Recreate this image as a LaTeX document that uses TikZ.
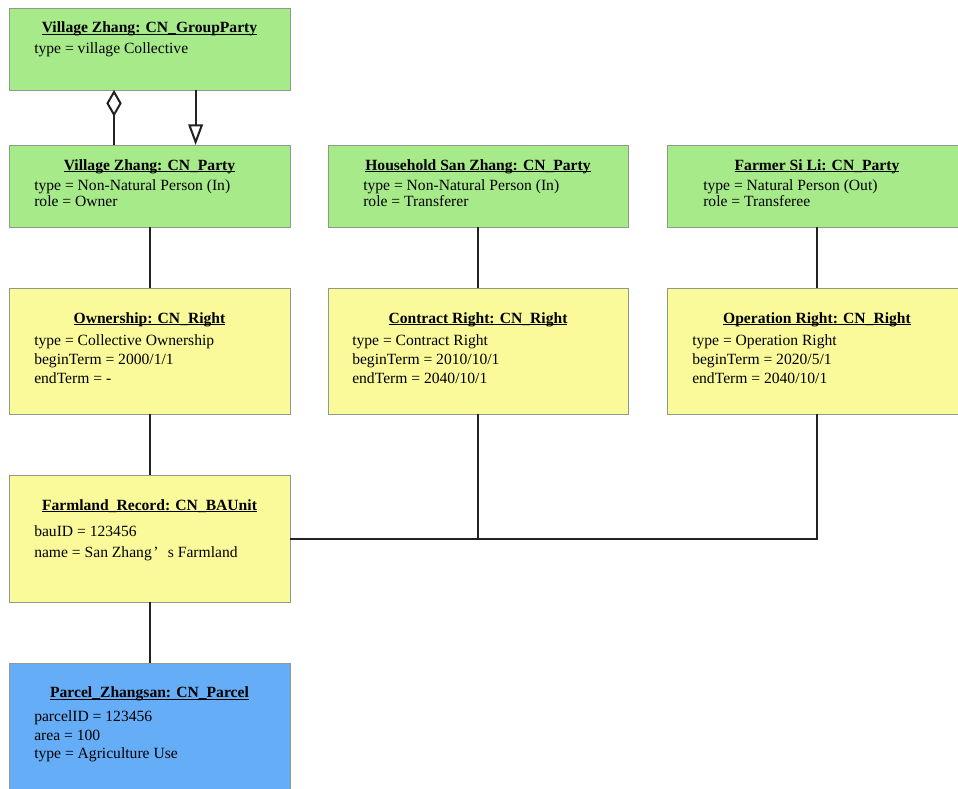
\documentclass[tikz,border=0pt]{standalone}
\usepackage{fontspec}
\setmainfont{Liberation Serif}
\usetikzlibrary{arrows.meta,shadows}
\definecolor{partygreen}{HTML}{A7EA8A}
\definecolor{rightyellow}{HTML}{FBFA9A}
\definecolor{parcelblue}{HTML}{66ADF7}
\definecolor{boxborder}{HTML}{8E9A8A}
\definecolor{linkcolor}{HTML}{222222}
% bold object name with an underline set at the underscore's depth
\newcommand\objtitle[1]{\setbox0\hbox{\bfseries #1}\rlap{\rule[-1.55pt]{\wd0}{0.65pt}}\box0}
\begin{document}
\begin{tikzpicture}[x=0.75pt,y=-0.75pt,
  objbox/.style={draw=boxborder, line width=0.75pt, inner sep=0pt, outer sep=0pt, anchor=north west,
    drop shadow={shadow xshift=1.1pt, shadow yshift=-1.1pt, fill=black, opacity=0.12}},
  party/.style={objbox, fill=partygreen, minimum height=61.5pt},
  rightbox/.style={objbox, fill=rightyellow, minimum height=94.5pt},
  narrow/.style={minimum width=210.75pt},
  wide/.style={minimum width=225pt},
  objname/.style={anchor=base, inner sep=0pt, font=\fontsize{11.7}{14}\selectfont},
  attr/.style={anchor=base west, inner sep=0pt, font=\fontsize{11.7}{14}\selectfont},
  link/.style={line width=1.5pt, draw=linkcolor}]
\useasboundingbox[fill=white] (0,0) rectangle (958,789);

% object boxes
\node[party, narrow] (gp) at (9,8) {};
\node[party, narrow] (vz) at (9,145) {};
\node[party, wide] (hh) at (328,145) {};
\node[party, wide] (fm) at (667,145) {};
\node[rightbox, narrow] (own) at (9,288) {};
\node[rightbox, wide] (con) at (328,288) {};
\node[rightbox, wide] (opr) at (667,288) {};
\node[rightbox, narrow, minimum height=95.25pt] (far) at (9,475) {};
\node[objbox, narrow, fill=parcelblue, minimum height=97.5pt] (par) at (9,663) {};

% object names
\node[objname] (gp-t) at (149.5,32.3) {\objtitle{Village Zhang: CN\_GroupParty}};
\node[objname] (vz-t) at (149.5,170) {\objtitle{Village Zhang: CN\_Party}};
\node[objname] (hh-t) at (478,170) {\objtitle{Household San Zhang: CN\_Party}};
\node[objname] (fm-t) at (817,170) {\objtitle{Farmer Si Li: CN\_Party}};
\node[objname] (own-t) at (149.5,323) {\objtitle{Ownership: CN\_Right}};
\node[objname] (con-t) at (478,323) {\objtitle{Contract Right: CN\_Right}};
\node[objname] (opr-t) at (817,323) {\objtitle{Operation Right: CN\_Right}};
\node[objname] (far-t) at (149.5,510) {\objtitle{Farmland\_Record: CN\_BAUnit}};
\node[objname] (par-t) at (149.5,697.5) {\objtitle{Parcel\_Zhangsan: CN\_Parcel}};

% attribute values
\node[attr] (gp-a1) at (34,53.3) {type = village Collective};

\node[attr] (vz-a1) at (34,190.7) {type = Non-Natural Person (In)};
\node[attr] (vz-a2) at (34,206) {role = Owner};
\node[attr] (hh-a1) at (363,190.7) {type = Non-Natural Person (In)};
\node[attr] (hh-a2) at (363,206) {role = Transferer};
\node[attr] (fm-a1) at (703,190.7) {type = Natural Person (Out)};
\node[attr] (fm-a2) at (703,206) {role = Transferee};

\node[attr] (own-a1) at (34,345) {type = Collective Ownership};
\node[attr] (own-a2) at (34,364) {beginTerm = 2000/1/1};
\node[attr] (own-a3) at (34,383) {endTerm = -};
\node[attr] (con-a1) at (352,345) {type = Contract Right};
\node[attr] (con-a2) at (352,364) {beginTerm = 2010/10/1};
\node[attr] (con-a3) at (352,383) {endTerm = 2040/10/1};
\node[attr] (opr-a1) at (692,345) {type = Operation Right};
\node[attr] (opr-a2) at (692,364) {beginTerm = 2020/5/1};
\node[attr] (opr-a3) at (692,383) {endTerm = 2040/10/1};

\node[attr] (far-a1) at (34,536.7) {bauID = 123456};
\node[attr] (far-a2) at (34,557.3) {name = San Zhang\hspace{0.1em}’\hspace{0.6em}s Farmland};

\node[attr] (par-a1) at (34,721) {parcelID = 123456};
\node[attr] (par-a2) at (34,740) {area = 100};
\node[attr] (par-a3) at (34,758.3) {type = Agriculture Use};

% aggregation and generalization between the group party and the party
\draw[link, {Diamond[open, length=20pt, width=11.5pt]}-]
  ([xshift=-26.6pt]gp.south) -- ([xshift=-26.6pt]vz.north);
\draw[link, -{Triangle[open, length=15.5pt, width=11pt]}]
  ([xshift=34.6pt]gp.south) -- ([xshift=34.6pt]vz.north);

% associations
\draw[link] (vz) -- (own);
\draw[link] (hh) -- (con);
\draw[link] (fm) -- (opr);
\draw[link] (own) -- (far);
\draw[link] (far) -- (par);
\draw[link] (far.east) -| (opr.south);
\draw[link] (con.south) -- (con.south |- far.east);
\end{tikzpicture}
\end{document}
